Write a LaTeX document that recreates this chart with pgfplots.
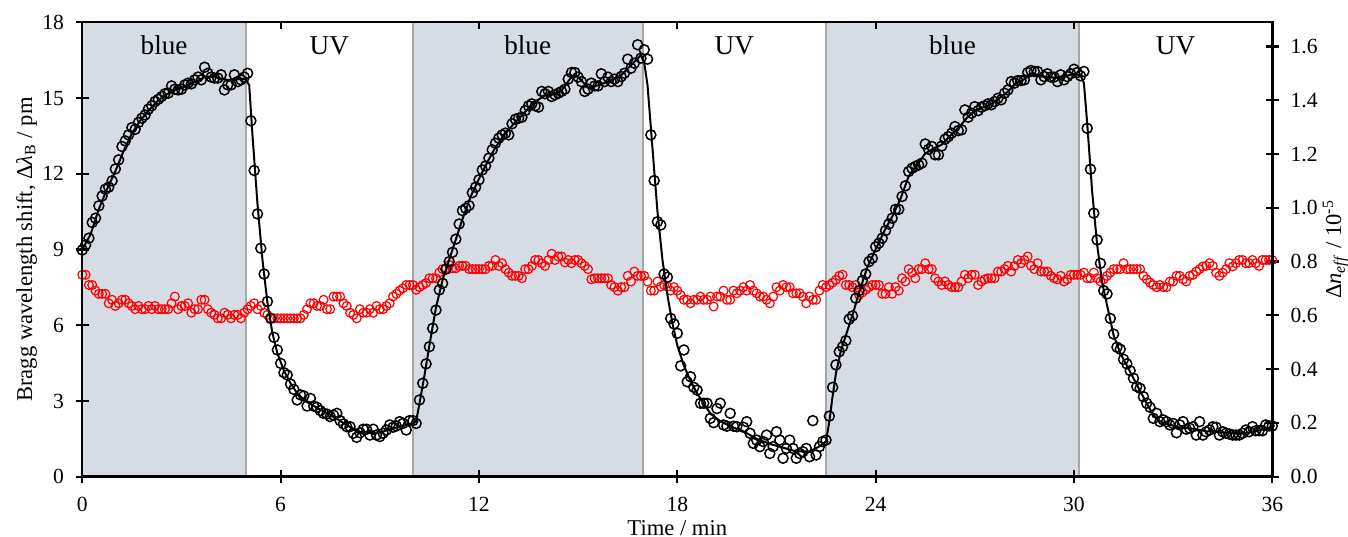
\documentclass[border=0pt]{standalone}
\usepackage{fontspec}
\setmainfont{Liberation Serif}
\usepackage{pgfplots}
\pgfplotsset{compat=1.18}
\definecolor{shade}{HTML}{D6DCE4}
\definecolor{bgray}{HTML}{A6A6A6}
\pgfplotsset{
 base/.style={at={(0,0)}, anchor=south west, scale only axis, width=595bp, height=227.2bp,
   xmin=0, xmax=36, tick align=center, major tick length=6.5bp,
   tick style={line width=1.1bp, black},
   axis line style={line width=1.2bp},
   tick label style={font=\fontsize{10.8bp}{13bp}\selectfont},
   /pgf/number format/assume math mode=true},
}
\begin{document}
\begin{tikzpicture}
\path[use as bounding box] (-41.15bp,-30.15bp) rectangle (632.85bp,238.35bp);
% right axis: shading, boundaries, red series
\begin{axis}[base, ymin=0, ymax=1.69, axis x line=none, axis y line*=right,
  ytick={0,0.2,0.4,0.6,0.8,1.0,1.2,1.4,1.6},
  y tick label style={/pgf/number format/fixed, /pgf/number format/fixed zerofill, /pgf/number format/precision=1, xshift=2.4bp},
  every axis y label/.style={at={(rel axis cs:1,0.5)}, xshift=31.6bp, rotate=90, anchor=center, font=\fontsize{11.3bp}{13bp}\selectfont},
  ylabel={Δ\textit{n}\textsubscript{\textit{eff}} / 10\textsuperscript{-5}}]
\addplot[fill=shade, draw=none] coordinates {(0,0) (4.95,0) (4.95,1.69) (0,1.69)} -- cycle;
\addplot[fill=shade, draw=none] coordinates {(10.0,0) (16.95,0) (16.95,1.69) (10.0,1.69)} -- cycle;
\addplot[fill=shade, draw=none] coordinates {(22.5,0) (30.15,0) (30.15,1.69) (22.5,1.69)} -- cycle;
\addplot[bgray, line width=1bp] coordinates {(4.95,0) (4.95,1.69)};
\addplot[bgray, line width=1bp] coordinates {(10.0,0) (10.0,1.69)};
\addplot[bgray, line width=1bp] coordinates {(16.95,0) (16.95,1.69)};
\addplot[bgray, line width=1bp] coordinates {(22.5,0) (22.5,1.69)};
\addplot[bgray, line width=1bp] coordinates {(30.15,0) (30.15,1.69)};
\addplot[only marks, mark=o, red, mark size=2.2bp, mark options={line width=0.6bp}] coordinates {
(0.0,0.751)(0.1,0.751)(0.2,0.713)(0.3,0.713)(0.4,0.692)(0.5,0.680)(0.6,0.680)(0.7,0.680)(0.8,0.645)(0.9,0.658)
(1.0,0.635)(1.1,0.645)(1.2,0.658)(1.3,0.658)(1.4,0.645)(1.5,0.635)(1.6,0.623)(1.7,0.635)(1.8,0.623)(1.9,0.623)
(2.0,0.635)(2.1,0.623)(2.2,0.635)(2.3,0.623)(2.4,0.623)(2.5,0.623)(2.6,0.623)(2.7,0.645)(2.8,0.670)(2.9,0.623)
(3.0,0.635)(3.1,0.635)(3.2,0.645)(3.3,0.610)(3.4,0.623)(3.5,0.623)(3.6,0.658)(3.7,0.658)(3.8,0.623)(3.9,0.610)
(4.0,0.602)(4.1,0.589)(4.2,0.589)(4.3,0.610)(4.4,0.602)(4.5,0.589)(4.6,0.602)(4.7,0.602)(4.8,0.589)(4.9,0.610)
(5.0,0.623)(5.1,0.635)(5.2,0.645)(5.3,0.623)(5.4,0.635)(5.5,0.610)(5.6,0.602)(5.7,0.589)(5.8,0.589)(5.9,0.589)
(6.0,0.589)(6.1,0.589)(6.2,0.589)(6.3,0.589)(6.4,0.589)(6.5,0.589)(6.6,0.589)(6.7,0.602)(6.8,0.623)(6.9,0.645)
(7.0,0.645)(7.1,0.635)(7.2,0.635)(7.3,0.658)(7.4,0.623)(7.5,0.623)(7.6,0.670)(7.7,0.670)(7.8,0.670)(7.9,0.645)
(8.0,0.635)(8.1,0.610)(8.2,0.602)(8.3,0.589)(8.4,0.623)(8.5,0.610)(8.6,0.610)(8.7,0.623)(8.8,0.610)(8.9,0.635)
(9.0,0.623)(9.1,0.623)(9.2,0.635)(9.3,0.645)(9.4,0.670)(9.5,0.680)(9.6,0.692)(9.7,0.701)(9.8,0.713)(9.9,0.713)
(10.0,0.713)(10.1,0.695)(10.2,0.705)(10.3,0.713)(10.4,0.720)(10.5,0.738)(10.6,0.738)(10.7,0.738)(10.8,0.759)(10.9,0.772)
(11.0,0.775)(11.1,0.788)(11.2,0.775)(11.3,0.775)(11.4,0.784)(11.5,0.784)(11.6,0.784)(11.7,0.772)(11.8,0.772)(11.9,0.772)
(12.0,0.772)(12.1,0.772)(12.2,0.772)(12.3,0.784)(12.4,0.784)(12.5,0.806)(12.6,0.784)(12.7,0.794)(12.8,0.772)(12.9,0.759)
(13.0,0.747)(13.1,0.747)(13.2,0.747)(13.3,0.738)(13.4,0.772)(13.5,0.772)(13.6,0.784)(13.7,0.806)(13.8,0.806)(13.9,0.794)
(14.0,0.784)(14.1,0.806)(14.2,0.829)(14.3,0.806)(14.4,0.819)(14.5,0.819)(14.6,0.797)(14.7,0.806)(14.8,0.794)(14.9,0.806)
(15.0,0.806)(15.1,0.794)(15.2,0.784)(15.3,0.772)(15.4,0.734)(15.5,0.738)(15.6,0.738)(15.7,0.738)(15.8,0.738)(15.9,0.738)
(16.0,0.713)(16.1,0.705)(16.2,0.692)(16.3,0.705)(16.4,0.705)(16.5,0.747)(16.6,0.726)(16.7,0.763)(16.8,0.747)(16.9,0.747)
(17.0,0.747)(17.1,0.726)(17.2,0.692)(17.3,0.692)(17.4,0.726)(17.5,0.707)(17.6,0.713)(17.7,0.707)(17.8,0.692)(17.9,0.705)
(18.0,0.692)(18.1,0.676)(18.2,0.658)(18.3,0.658)(18.4,0.645)(18.5,0.658)(18.6,0.658)(18.7,0.670)(18.8,0.658)(18.9,0.658)
(19.0,0.670)(19.1,0.633)(19.2,0.670)(19.3,0.670)(19.4,0.692)(19.5,0.658)(19.6,0.658)(19.7,0.692)(19.8,0.682)(19.9,0.692)
(20.0,0.705)(20.1,0.692)(20.2,0.713)(20.3,0.692)(20.4,0.682)(20.5,0.670)(20.6,0.670)(20.7,0.658)(20.8,0.645)(20.9,0.670)
(21.0,0.705)(21.1,0.692)(21.2,0.713)(21.3,0.705)(21.4,0.705)(21.5,0.682)(21.6,0.682)(21.7,0.682)(21.8,0.670)(21.9,0.645)
(22.0,0.670)(22.1,0.658)(22.2,0.658)(22.3,0.692)(22.4,0.713)(22.5,0.705)(22.6,0.713)(22.7,0.722)(22.8,0.732)(22.9,0.747)
(23.0,0.751)(23.1,0.713)(23.2,0.713)(23.3,0.705)(23.4,0.713)(23.5,0.676)(23.6,0.685)(23.7,0.695)(23.8,0.705)(23.9,0.713)
(24.0,0.713)(24.1,0.713)(24.2,0.680)(24.3,0.680)(24.4,0.705)(24.5,0.680)(24.6,0.705)(24.7,0.692)(24.8,0.738)(24.9,0.726)
(25.0,0.772)(25.1,0.759)(25.2,0.738)(25.3,0.772)(25.4,0.772)(25.5,0.794)(25.6,0.772)(25.7,0.772)(25.8,0.738)(25.9,0.726)
(26.0,0.713)(26.1,0.726)(26.2,0.713)(26.3,0.705)(26.4,0.705)(26.5,0.705)(26.6,0.726)(26.7,0.751)(26.8,0.738)(26.9,0.751)
(27.0,0.751)(27.1,0.713)(27.2,0.726)(27.3,0.734)(27.4,0.738)(27.5,0.738)(27.6,0.738)(27.7,0.763)(27.8,0.763)(27.9,0.772)
(28.0,0.784)(28.1,0.763)(28.2,0.784)(28.3,0.806)(28.4,0.794)(28.5,0.806)(28.6,0.819)(28.7,0.784)(28.8,0.772)(28.9,0.794)
(29.0,0.763)(29.1,0.763)(29.2,0.763)(29.3,0.747)(29.4,0.738)(29.5,0.734)(29.6,0.747)(29.7,0.726)(29.8,0.734)(29.9,0.751)
(30.0,0.751)(30.1,0.751)(30.2,0.751)(30.3,0.759)(30.4,0.738)(30.5,0.738)(30.6,0.759)(30.7,0.738)(30.8,0.726)(30.9,0.734)
(31.0,0.747)(31.1,0.759)(31.2,0.772)(31.3,0.772)(31.4,0.772)(31.5,0.794)(31.6,0.772)(31.7,0.772)(31.8,0.772)(31.9,0.772)
(32.0,0.772)(32.1,0.747)(32.2,0.734)(32.3,0.722)(32.4,0.713)(32.5,0.705)(32.6,0.713)(32.7,0.705)(32.8,0.705)(32.9,0.726)
(33.0,0.726)(33.1,0.747)(33.2,0.747)(33.3,0.734)(33.4,0.726)(33.5,0.747)(33.6,0.751)(33.7,0.763)(33.8,0.772)(33.9,0.782)
(34.0,0.784)(34.1,0.794)(34.2,0.784)(34.3,0.759)(34.4,0.747)(34.5,0.759)(34.6,0.772)(34.7,0.794)(34.8,0.782)(34.9,0.794)
(35.0,0.806)(35.1,0.806)(35.2,0.794)(35.3,0.794)(35.4,0.806)(35.5,0.794)(35.6,0.784)(35.7,0.806)(35.8,0.806)(35.9,0.806)
(36.0,0.806)};
\end{axis}
% left axis: black series
\begin{axis}[base, ymin=0, ymax=18, xtick={0,6,12,18,24,30,36}, ytick={0,3,6,9,12,15,18},
  xtick pos=left, ytick pos=left,
  x tick label style={yshift=-3.6bp}, y tick label style={xshift=-2.4bp},
  every axis x label/.style={at={(rel axis cs:0.5,0)}, yshift=-29.15bp, anchor=base, font=\fontsize{11.3bp}{13bp}\selectfont},
  every axis y label/.style={at={(rel axis cs:0,0.5)}, xshift=-27.9bp, rotate=90, anchor=center, font=\fontsize{11.3bp}{13bp}\selectfont},
  xlabel={Time / min},
  ylabel={Bragg wavelength shift, Δ\textit{λ}\textsubscript{B} / pm}]
\addplot[black, line width=1bp, line join=round] coordinates {
(0,9.0)(0.25,9.6)(0.5,10.6)(0.75,11.4)(1.0,12.1)(1.25,12.9)(1.5,13.6)(1.75,14.1)(2.0,14.5)(2.25,14.85)
(2.5,15.1)(2.75,15.3)(3.0,15.4)(3.25,15.55)(3.5,15.7)(3.75,15.85)(4.0,15.85)(4.25,15.75)(4.5,15.7)(4.75,15.75)
(4.95,15.75)(5.05,15.5)(5.15,13.5)(5.3,10.8)(5.45,8.6)(5.6,6.9)(5.75,5.7)(5.9,4.9)(6.1,4.2)(6.3,3.7)
(6.5,3.3)(6.75,3.0)(7.0,2.8)(7.5,2.45)(8.0,2.05)(8.3,1.8)(8.6,1.75)(9.0,1.75)(9.5,1.95)(9.8,2.05)(10.0,2.1)(10.1,2.2)
(10.2,2.9)(10.35,4.0)(10.5,5.2)(10.7,6.7)(10.9,7.8)(11.1,8.6)(11.3,9.4)(11.5,10.2)(11.75,11.1)(12.0,11.8)
(12.25,12.45)(12.5,13.05)(12.75,13.5)(13.0,13.9)(13.25,14.25)(13.5,14.6)(13.75,14.9)(14.0,15.1)(14.25,15.15)(14.5,15.3)
(14.75,15.75)(14.9,15.95)(15.1,15.7)(15.3,15.4)(15.6,15.5)(16.0,15.7)(16.3,15.9)(16.6,16.3)(16.9,16.7)(17.0,16.4)
(17.1,15.5)(17.25,13.0)(17.4,10.5)(17.55,8.6)(17.7,7.2)(17.85,6.1)(18.0,5.2)(18.2,4.4)(18.4,3.8)(18.6,3.3)
(18.8,2.9)(19.0,2.5)(19.3,2.2)(19.6,2.0)(20.0,1.8)(20.4,1.5)(20.8,1.3)(21.2,1.15)(21.6,1.0)(22.0,1.0)(22.3,1.2)(22.5,1.4)
(22.6,2.2)(22.7,3.2)(22.8,4.1)(22.95,5.0)(23.1,5.6)(23.3,6.4)(23.5,7.3)(23.75,8.3)(24.0,9.0)(24.25,9.7)
(24.5,10.3)(24.75,11.0)(25.0,11.9)(25.25,12.35)(25.5,12.8)(25.75,13.0)(26.0,13.15)(26.25,13.5)(26.5,13.8)(26.75,14.2)
(27.0,14.5)(27.5,14.75)(28.0,15.25)(28.25,15.6)(28.5,15.75)(28.75,16.0)(29.0,15.85)(29.5,15.8)(30.0,15.95)(30.2,15.9)
(30.3,15.6)(30.4,14.0)(30.55,11.3)(30.7,9.2)(30.85,7.7)(31.0,6.8)(31.2,5.6)(31.4,4.9)(31.6,4.4)(31.8,3.9)
(32.0,3.4)(32.2,2.9)(32.4,2.45)(32.6,2.2)(32.8,2.1)(33.2,1.95)(33.6,1.9)(34.0,1.8)(34.5,1.75)(35.0,1.7)(35.5,1.8)(36.0,1.95)};
\addplot[only marks, mark=o, black, mark size=2.5bp, mark options={line width=0.75bp}] coordinates {
(0.0,8.98)(0.1,9.18)(0.2,9.45)(0.3,10.07)(0.4,10.24)(0.5,10.73)(0.6,11.12)(0.7,11.39)(0.8,11.47)(0.9,11.72)
(1.0,12.19)(1.1,12.55)(1.2,13.08)(1.3,13.30)(1.4,13.54)(1.5,13.83)(1.6,13.76)(1.7,14.03)(1.8,14.20)(1.9,14.33)
(2.0,14.56)(2.1,14.69)(2.2,14.86)(2.3,14.95)(2.4,15.06)(2.5,15.17)(2.6,15.19)(2.7,15.48)(2.8,15.35)(2.9,15.32)
(3.0,15.35)(3.1,15.52)(3.2,15.59)(3.3,15.56)(3.4,15.72)(3.5,15.83)(3.6,15.72)(3.7,16.22)(3.8,15.98)(3.9,15.83)
(4.0,15.79)(4.1,15.79)(4.2,15.92)(4.3,15.32)(4.4,15.52)(4.5,15.52)(4.6,15.92)(4.7,15.65)(4.8,15.72)(4.9,15.83)
(5.0,15.98)(5.1,14.10)(5.2,12.13)(5.3,10.41)(5.4,9.05)(5.5,8.03)(5.6,6.94)(5.7,6.27)(5.8,5.52)(5.9,5.02)
(6.0,4.49)(6.1,4.12)(6.2,4.03)(6.3,3.67)(6.4,3.46)(6.5,3.04)(6.6,3.24)(6.7,3.20)(6.8,2.80)(6.9,3.10)
(7.0,2.80)(7.1,2.75)(7.2,2.62)(7.3,2.51)(7.4,2.48)(7.5,2.38)(7.6,2.44)(7.7,2.51)(7.8,2.22)(7.9,2.09)
(8.0,1.98)(8.1,1.98)(8.2,1.72)(8.3,1.56)(8.4,1.74)(8.5,1.88)(8.6,1.88)(8.7,1.65)(8.8,1.88)(8.9,1.65)
(9.0,1.59)(9.1,1.72)(9.2,1.85)(9.3,2.05)(9.4,1.96)(9.5,2.01)(9.6,2.18)(9.7,2.11)(9.8,1.85)(9.9,2.22)
(10.0,2.22)(10.1,2.11)(10.2,3.04)(10.3,3.70)(10.4,4.47)(10.5,5.15)(10.6,5.88)(10.7,6.60)(10.8,7.40)(10.9,7.66)
(11.0,8.22)(11.1,8.52)(11.2,8.89)(11.3,9.41)(11.4,10.01)(11.5,10.54)(11.6,10.63)(11.7,10.74)(11.8,11.25)(11.9,11.47)
(12.0,11.76)(12.1,12.15)(12.2,12.31)(12.3,12.62)(12.4,12.95)(12.5,13.21)(12.6,13.41)(12.7,13.54)(12.8,13.61)(12.9,13.54)
(13.0,13.98)(13.1,14.16)(13.2,14.20)(13.3,14.24)(13.4,14.50)(13.5,14.69)(13.6,14.77)(13.7,14.69)(13.8,14.64)(13.9,15.26)
(14.0,15.17)(14.1,15.26)(14.2,15.06)(14.3,15.13)(14.4,15.19)(14.5,15.26)(14.6,15.35)(14.7,15.75)(14.8,16.01)(14.9,16.01)
(15.0,15.83)(15.1,15.65)(15.2,15.26)(15.3,15.35)(15.4,15.59)(15.5,15.48)(15.6,15.48)(15.7,15.96)(15.8,15.65)(15.9,15.83)
(16.0,15.65)(16.1,15.75)(16.2,15.65)(16.3,15.85)(16.4,15.98)(16.5,16.54)(16.6,16.18)(16.7,16.38)(16.8,17.11)(16.9,16.58)
(17.0,16.91)(17.1,16.54)(17.2,13.54)(17.3,11.73)(17.4,10.10)(17.5,9.97)(17.6,8.03)(17.7,7.90)(17.8,6.27)(17.9,6.05)
(18.0,5.68)(18.1,4.39)(18.2,5.02)(18.3,3.76)(18.4,3.96)(18.5,3.54)(18.6,3.43)(18.7,2.91)(18.8,2.91)(18.9,2.91)
(19.0,2.31)(19.1,2.14)(19.2,2.70)(19.3,2.91)(19.4,2.05)(19.5,2.00)(19.6,2.51)(19.7,2.00)(19.8,1.98)(20.0,1.96)
(20.1,2.18)(20.2,1.72)(20.3,1.32)(20.4,1.45)(20.5,1.19)(20.6,1.39)(20.7,1.65)(20.8,0.92)(20.9,1.19)(21.0,1.78)
(21.1,1.45)(21.2,0.73)(21.3,1.12)(21.4,1.45)(21.5,1.12)(21.6,0.73)(21.7,0.92)(21.8,0.99)(21.9,1.12)(22.0,0.79)
(22.1,2.22)(22.2,0.86)(22.3,1.19)(22.4,1.39)(22.5,1.45)(22.6,2.40)(22.7,3.54)(22.8,4.43)(22.9,4.95)(23.0,5.15)
(23.1,5.39)(23.2,6.24)(23.3,6.37)(23.4,7.07)(23.5,7.37)(23.6,7.77)(23.7,8.03)(23.8,8.52)(23.9,8.65)(24.0,9.11)
(24.1,9.25)(24.2,9.45)(24.3,9.75)(24.4,10.01)(24.5,10.24)(24.6,10.59)(24.7,10.59)(24.8,11.10)(24.9,11.52)(25.0,12.09)
(25.1,12.22)(25.2,12.29)(25.3,12.35)(25.4,12.42)(25.5,13.18)(25.6,12.97)(25.7,13.08)(25.8,12.75)(25.9,12.75)(26.0,13.10)
(26.1,13.37)(26.2,13.47)(26.3,13.61)(26.4,13.87)(26.5,13.71)(26.6,13.74)(26.7,14.53)(26.8,14.24)(26.9,14.40)(27.0,14.66)
(27.1,14.50)(27.2,14.64)(27.3,14.69)(27.4,14.77)(27.5,14.73)(27.6,14.86)(27.7,14.99)(27.8,14.93)(27.9,15.19)(28.0,15.32)
(28.1,15.65)(28.2,15.59)(28.3,15.69)(28.4,15.69)(28.5,15.72)(28.6,16.01)(28.7,16.09)(28.8,16.05)(28.9,16.05)(29.0,15.72)
(29.1,15.85)(29.2,15.96)(29.3,15.83)(29.4,15.83)(29.5,15.65)(29.6,15.92)(29.7,15.72)(29.8,15.85)(29.9,15.96)(30.0,16.14)
(30.1,16.01)(30.2,15.88)(30.3,16.05)(30.4,13.80)(30.5,12.18)(30.6,10.44)(30.7,9.38)(30.8,8.45)(30.9,7.37)(31.0,7.24)
(31.1,6.27)(31.2,5.65)(31.3,5.13)(31.4,5.05)(31.5,4.65)(31.6,4.47)(31.7,4.20)(31.8,3.90)(31.9,3.57)(32.0,3.50)
(32.1,3.17)(32.2,2.91)(32.3,2.75)(32.4,2.31)(32.5,2.51)(32.6,2.18)(32.7,2.25)(32.8,2.18)(32.9,2.05)(33.0,2.11)
(33.1,1.74)(33.2,2.05)(33.3,2.18)(33.4,1.88)(33.5,1.92)(33.6,1.98)(33.7,1.65)(33.8,2.18)(33.9,1.65)(34.0,1.78)
(34.1,1.85)(34.2,1.98)(34.3,1.96)(34.4,1.65)(34.5,1.78)(34.6,1.72)(34.7,1.69)(34.8,1.65)(34.9,1.65)(35.0,1.65)
(35.1,1.72)(35.2,1.85)(35.3,1.78)(35.4,1.98)(35.5,1.82)(35.6,1.82)(35.7,1.82)(35.8,2.05)(35.9,2.01)(36.0,2.01)};
\node[font=\fontsize{13.6bp}{16bp}\selectfont, anchor=base] at (axis cs:2.475,16.71) {blue};
\node[font=\fontsize{13.6bp}{16bp}\selectfont, anchor=base] at (axis cs:7.475,16.71) {UV};
\node[font=\fontsize{13.6bp}{16bp}\selectfont, anchor=base] at (axis cs:13.475,16.71) {blue};
\node[font=\fontsize{13.6bp}{16bp}\selectfont, anchor=base] at (axis cs:19.725,16.71) {UV};
\node[font=\fontsize{13.6bp}{16bp}\selectfont, anchor=base] at (axis cs:26.325,16.71) {blue};
\node[font=\fontsize{13.6bp}{16bp}\selectfont, anchor=base] at (axis cs:33.075,16.71) {UV};
\end{axis}
% top inward ticks
\begin{axis}[base, ymin=0, ymax=18, axis x line*=top, axis y line=none,
  xtick={6,12,18,24,30}, xticklabels={}, tick align=inside, major tick length=3.2bp]
\end{axis}
\end{tikzpicture}
\end{document}
